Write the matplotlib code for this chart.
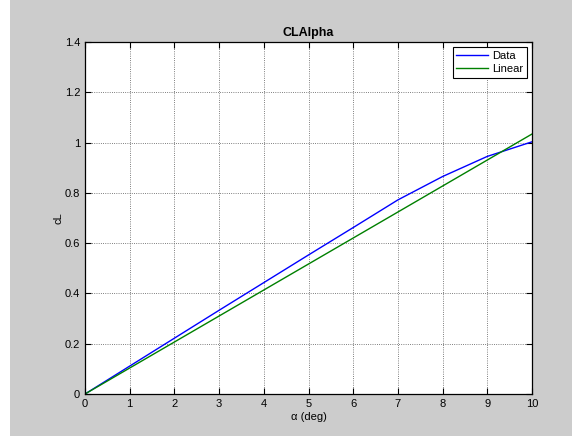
from matplotlib import pyplot as plt
from matplotlib.ticker import FormatStrFormatter
from matplotlib.patches import Rectangle
import numpy as np

# angle of attack (deg) and lift coefficient
alpha = [0, 1, 2, 3, 4, 5, 6, 7, 8, 9, 10]
cl_data = [0, 0.111, 0.222, 0.333, 0.443, 0.553, 0.662, 0.772, 0.865, 0.945, 1.003]
alpha_fit = [0, 10]
cl_fit = [0, 1.034]

plt.rcParams['font.family'] = ['Liberation Sans', 'DejaVu Sans']
plt.rcParams['font.size'] = 8

fig = plt.figure(figsize=(5.72, 4.36), dpi=100, facecolor='#cccccc')
# thin white margin on the left edge of the window grab
fig.patches.append(Rectangle((0, 0), 10/572, 1, transform=fig.transFigure,
                             facecolor='white', edgecolor='none', zorder=-1))
ax = fig.add_axes([85/572, 42/436, 447/572, 352/436])
ax.set_facecolor('white')

ax.plot(alpha, cl_data, color='#0000ff', lw=1, label='Data')
ax.plot(alpha_fit, cl_fit, color='#008000', lw=1, label='Linear')

ax.set_xlim(0, 10)
ax.set_ylim(0, 1.4)
ax.set_xticks(np.arange(0, 11, 1))
ax.set_yticks(np.arange(0, 1.41, 0.2))
ax.yaxis.set_major_formatter(FormatStrFormatter('%g'))
ax.tick_params(direction='in', top=True, right=True, length=4, width=0.8)
ax.grid(True, linestyle=':', color='#555555', lw=0.6)
for s in ax.spines.values():
    s.set_linewidth(0.9)

ax.set_title('CLAlpha', fontweight='bold', fontsize=9, pad=4)
ax.set_xlabel('\u03b1 (deg)', labelpad=2)
ax.set_ylabel('cL', labelpad=1)

leg = ax.legend(loc='upper right', fancybox=False, edgecolor='black',
                framealpha=1, borderaxespad=0.45, handlelength=2.8,
                handletextpad=0.4, borderpad=0.35, labelspacing=0.3)
leg.get_frame().set_linewidth(0.8)

fig.savefig('out.png', dpi=100, facecolor=fig.get_facecolor())
